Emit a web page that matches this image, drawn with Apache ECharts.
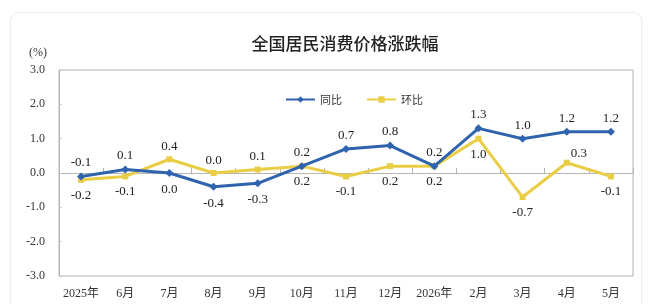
<!DOCTYPE html>
<html>
<head>
<meta charset="utf-8">
<script src="https://cdn.jsdelivr.net/npm/echarts@6/dist/echarts.min.js"></script>
<style>
  html, body { margin: 0; padding: 0; background: #fff; }
  #card { position: absolute; left: 10px; top: 12px; width: 630px; height: 300px;
          border: 1px solid #ededed; border-radius: 9px; box-shadow: 0 0 3px rgba(0,0,0,0.05); }
  #chart { position: absolute; left: 0; top: 0; width: 650px; height: 304px; }
</style>
</head>
<body>
<div id="card"></div>
<div id="chart"></div>
<script>
const months = ['2025年', '6月', '7月', '8月', '9月', '10月', '11月', '12月', '2026年', '2月', '3月', '4月', '5月'];
const yoy = [-0.1, 0.1, 0.0, -0.4, -0.3, 0.2, 0.7, 0.8, 0.2, 1.3, 1.0, 1.2, 1.2];
const mom = [-0.2, -0.1, 0.4, 0.0, 0.1, 0.2, -0.1, 0.2, 0.2, 1.0, -0.7, 0.3, -0.1];
const yTicks = [-3, 3, 1];

const blue = '#2f63ad';
const yellow = '#e9cd45';
const serif = '"Liberation Serif", "DejaVu Serif", serif';
const cjk = '"Liberation Serif", "Noto Sans CJK SC", sans-serif';

// higher line gets its label above, lower one below
function buildData(values, other, isYoy) {
    return values.map((v, i) => {
        const above = isYoy ? v >= other[i] : v > other[i];
        let label = { position: above ? 'top' : 'bottom', distance: above ? 3 : 6 };
        if (!isYoy && i === 11) {
            label = { position: 'top', distance: 0, offset: [12, 0] };
        }
        return { value: v, label: label };
    });
}

const chart = echarts.init(document.getElementById('chart'));

chart.setOption({
    animation: false,
    title: {
        text: '全国居民消费价格涨跌幅',
        left: 340,
        top: 30,
        textAlign: 'center',
        textStyle: { fontFamily: '"Noto Sans CJK SC", sans-serif', fontSize: 17, fontWeight: 500, color: '#222' }
    },
    legend: {
        data: ['同比', '环比'],
        left: 280,
        top: 89,
        itemWidth: 29,
        itemHeight: 8,
        itemGap: 24,
        textStyle: { fontFamily: '"Noto Sans CJK SC", sans-serif', fontSize: 11, color: '#333' }
    },
    grid: {
        left: 59, right: 17, top: 70, bottom: 28,
        show: true, borderColor: '#b4b4b4', borderWidth: 1
    },
    xAxis: [
        {
            type: 'category',
            data: months,
            position: 'bottom',
            axisLine: { onZero: false, show: false },
            axisTick: { show: false },
            axisLabel: { interval: 0, margin: 12, fontFamily: cjk, fontSize: 12, color: '#333' },
            splitLine: { show: false }
        },
        {
            type: 'category',
            data: months,
            position: 'bottom',
            axisLine: { onZero: true, lineStyle: { color: '#b4b4b4', width: 1 } },
            axisTick: { show: true, interval: 0, inside: true, length: 5, lineStyle: { color: '#b4b4b4' } },
            axisLabel: { show: false, interval: 0 },
            splitLine: { show: false }
        }
    ],
    yAxis: {
        type: 'value',
        min: yTicks[0],
        max: yTicks[1],
        interval: yTicks[2],
        name: '(%)',
        nameLocation: 'end',
        nameGap: 11,
        nameTextStyle: { align: 'right', padding: [0, 12, 0, 0], fontFamily: serif, fontSize: 12, color: '#333' },
        axisLine: { show: true, lineStyle: { color: '#b4b4b4' } },
        axisTick: { show: true, inside: true, length: 3, lineStyle: { color: '#c8c8c8' } },
        axisLabel: {
            margin: 14,
            fontFamily: serif, fontSize: 12, color: '#333',
            formatter: v => v.toFixed(1)
        },
        splitLine: { show: false }
    },
    series: [
        {
            name: '同比',
            type: 'line',
            data: buildData(yoy, mom, true),
            color: blue,
            lineStyle: { width: 3, color: blue },
            symbol: 'diamond',
            symbolSize: 8,
            itemStyle: { color: blue },
            z: 3,
            label: {
                show: true,
                fontFamily: serif, fontSize: 13, color: '#222',
                formatter: p => p.value.toFixed(1)
            }
        },
        {
            name: '环比',
            type: 'line',
            data: buildData(mom, yoy, false),
            color: yellow,
            lineStyle: { width: 3, color: yellow },
            symbol: 'rect',
            symbolSize: 6,
            itemStyle: { color: yellow },
            z: 2,
            label: {
                show: true,
                fontFamily: serif, fontSize: 13, color: '#222',
                formatter: p => p.value.toFixed(1)
            }
        }
    ]
});
</script>
</body>
</html>
